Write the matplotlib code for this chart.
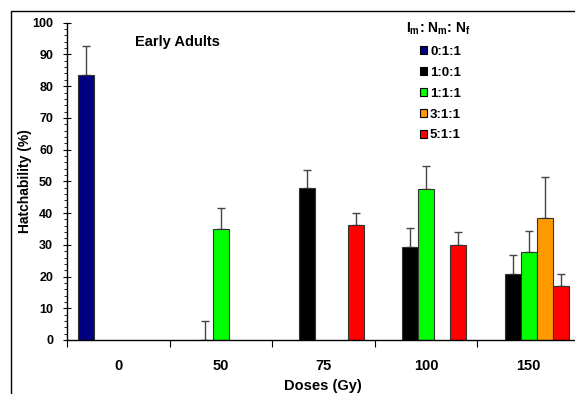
import numpy as np
import matplotlib
matplotlib.use("Agg")
import matplotlib.pyplot as plt
from matplotlib.patches import Rectangle, Patch
from matplotlib.ticker import MultipleLocator, FixedLocator
from matplotlib.offsetbox import HPacker, DrawingArea

plt.rcParams['font.family'] = ['Liberation Sans', 'DejaVu Sans']
plt.rcParams['mathtext.fontset'] = 'custom'
plt.rcParams['mathtext.bf'] = 'Liberation Sans:bold'
plt.rcParams['mathtext.rm'] = 'Liberation Sans:bold'
plt.rcParams['mathtext.it'] = 'Liberation Sans:bold'

doses = ['0', '50', '75', '100', '150']
series = ['0:1:1', '1:0:1', '1:1:1', '3:1:1', '5:1:1']
colors = ['#000080', '#000000', '#00FF00', '#FF9900', '#FF0000']
nan = np.nan
values = [
    [83.4, nan, nan, nan, nan],
    [nan, 0.0, 47.8, 29.4, 20.8],
    [nan, 34.9, nan, 47.7, 27.6],
    [nan, nan, nan, nan, 38.5],
    [nan, nan, 36.3, 29.8, 17.0],
]
errors = [
    [9.2, nan, nan, nan, nan],
    [nan, 6.0, 5.8, 5.9, 5.9],
    [nan, 6.6, nan, 7.0, 6.9],
    [nan, nan, nan, nan, 13.0],
    [nan, nan, 3.8, 4.1, 3.9],
]

W, H = 575, 394
fig = plt.figure(figsize=(W / 100, H / 100), dpi=100)
ax = fig.add_axes([67 / W, 1 - 340 / H, (580 - 67) / W, (340 - 22.7) / H])

# chart border
fig.patches.append(Rectangle((11 / W, -0.2), 2.0, 1.2 - 11 / H, transform=fig.transFigure,
                             fill=False, edgecolor='black', linewidth=1.0, zorder=0))

bw = 0.156
x = np.arange(len(doses))
for k, (name, col) in enumerate(zip(series, colors)):
    vals = np.array(values[k], dtype=float)
    errs = np.array(errors[k], dtype=float)
    mask = ~np.isnan(vals)
    xs = x[mask] + (k - 2) * bw
    ax.bar(xs, vals[mask], width=bw, color=col, edgecolor='#333333', linewidth=0.8, zorder=2)
    e = errs[mask]
    ax.errorbar(xs, vals[mask], yerr=[np.zeros_like(e), e], fmt='none', ecolor='#444444',
                elinewidth=1.0, capsize=3, capthick=1.0, zorder=1)

ax.set_xlim(-0.5, 4.5)
ax.set_ylim(0, 100)
ax.spines['top'].set_visible(False)
ax.spines['right'].set_visible(False)
ax.spines['left'].set_linewidth(1.0)
ax.spines['bottom'].set_linewidth(1.0)

ax.xaxis.set_major_locator(FixedLocator(np.arange(-0.5, 5.0, 1.0)))
ax.xaxis.set_minor_locator(FixedLocator(x))
ax.set_xticklabels([], minor=False)
ax.set_xticklabels(doses, minor=True, fontsize=10.5, fontweight='bold')
ax.tick_params(axis='x', which='major', direction='out', length=5, width=0.8)
ax.tick_params(axis='x', which='minor', length=0, pad=14)

ax.yaxis.set_major_locator(MultipleLocator(10))
ax.yaxis.set_minor_locator(MultipleLocator(2))
ax.tick_params(axis='y', which='major', direction='inout', length=6, width=0.8,
               labelsize=9, pad=7)
ax.tick_params(axis='y', which='minor', direction='out', length=2.5, width=0.6)
for lab in ax.get_yticklabels():
    lab.set_fontweight('bold')

ax.set_ylabel('Hatchability (%)', fontsize=10, fontweight='bold', labelpad=0)
fig.text(323 / W, 1 - 386 / H, 'Doses (Gy)', fontsize=10.5, fontweight='bold',
         va='center', ha='center')

fig.text(135 / W, 1 - 42 / H, 'Early Adults', fontsize=10.5, fontweight='bold',
         va='center', ha='left')

handles = [Patch(facecolor=c, edgecolor='black', linewidth=0.8) for c in colors]
leg = ax.legend(handles, series, loc='upper left', bbox_to_anchor=(397 / W, 1 - 11 / H),
                bbox_transform=fig.transFigure, frameon=False,
                title=r'$\mathbf{I_m}$: $\mathbf{N_m}$: $\mathbf{N_f}$',
                prop={'size': 9.5, 'weight': 'bold'}, handlelength=0.5, handleheight=0.5,
                handletextpad=0.25, labelspacing=0.68, borderpad=0.2)
leg.get_title().set_fontsize(10)
leg.get_title().set_fontweight('bold')
leg._legend_box.align = 'left'
for t in leg.get_texts():
    t.set_fontweight('bold')
inner = leg._legend_box.get_children()[1]
leg._legend_box._children[1] = HPacker(pad=0, sep=0,
                                       children=[DrawingArea(10, 1), inner], align='top')

fig.savefig('out.png', dpi=100)
